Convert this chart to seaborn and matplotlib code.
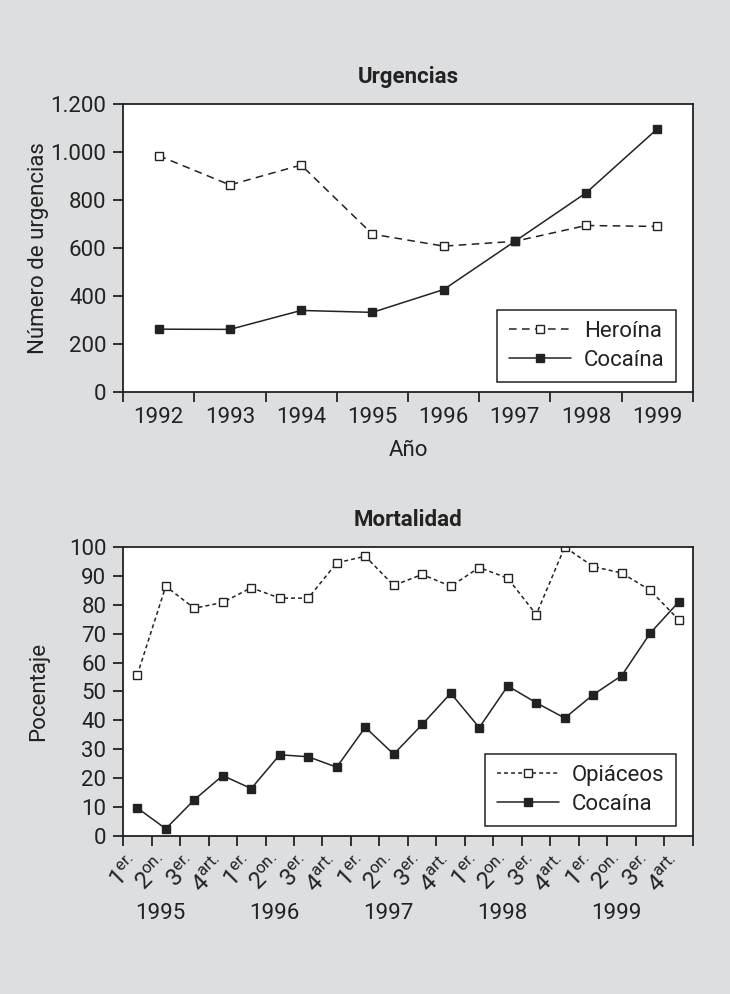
import matplotlib
matplotlib.use("Agg")
import matplotlib.pyplot as plt
import seaborn as sns
import numpy as np
import pandas as pd

# Urgencias (top panel)
anios_urg = ["1992", "1993", "1994", "1995", "1996", "1997", "1998", "1999"]
heroina = [985, 863, 946, 658, 608, 628, 694, 690]
cocaina_urg = [262, 261, 340, 332, 427, 628, 830, 1097]
ticks_urg = [0, 200, 400, 600, 800, 1000, 1200]
ticks_urg_lbl = ["0", "200", "400", "600", "800", "1.000", "1.200"]

# Mortalidad (bottom panel)
trimestres = ["1er.", "2on.", "3er.", "4art."]
anios_mort = ["1995", "1996", "1997", "1998", "1999"]
opiaceos = [55.7, 86.4, 78.8, 80.8, 85.9, 82.3, 82.3, 94.5, 96.8, 86.7,
            90.5, 86.4, 92.9, 89.2, 76.6, 100.0, 93.2, 91.0, 85.0, 74.8]
cocaina_mort = [9.7, 2.5, 12.5, 20.9, 16.4, 28.1, 27.4, 23.8, 37.6, 28.3,
                38.6, 49.4, 37.5, 51.9, 46.1, 40.8, 48.9, 55.5, 70.2, 81.0]

BG = "#dddee0"
INK = "#222222"

sns.set_style("ticks", rc={
    "axes.edgecolor": INK,
    "axes.linewidth": 1.3,
    "xtick.color": INK,
    "ytick.color": INK,
    "text.color": INK,
    "axes.labelcolor": INK,
    "xtick.direction": "out",
    "ytick.direction": "out",
})
plt.rcParams["font.family"] = ["Roboto", "DejaVu Sans"]
plt.rcParams["font.size"] = 16
plt.rcParams["mathtext.fontset"] = "custom"
plt.rcParams["mathtext.rm"] = "Roboto"


def sup(lbl):
    # "1er." -> 1 with superscript "er."
    return lbl[0] + r"$^{\mathrm{" + lbl[1:] + "}}$"


def serie(ax, x, y, nombre, relleno, dashes):
    df = pd.DataFrame({"x": x, "y": y})
    kw = dict(color=INK, linewidth=1.1, marker="s", markersize=6,
              markerfacecolor=relleno, markeredgecolor=INK,
              markeredgewidth=1.0, label=nombre)
    if dashes is not None:
        kw["linestyle"] = (0, dashes)
    sns.lineplot(data=df, x="x", y="y", ax=ax, sort=False, **kw)


def leyenda(ax):
    leg = ax.legend(loc="lower right", bbox_to_anchor=(0.97, 0.035),
                    borderaxespad=0, frameon=True, fancybox=False,
                    framealpha=1, edgecolor=INK, fontsize=16,
                    handlelength=2.8, handletextpad=0.6, borderpad=0.5,
                    labelspacing=0.35)
    leg.get_frame().set_linewidth(1.1)


def cajas(ax, n):
    ax.set_xlim(-0.5, n - 0.5)
    ax.set_xticks(np.arange(n + 1) - 0.5, labels=[""] * (n + 1))
    ax.tick_params(which="major", length=7, width=1.3, pad=5, labelsize=16)
    ax.tick_params(axis="x", which="minor", length=0)
    for s in ax.spines.values():
        s.set_visible(True)
        s.set_linewidth(1.3)


fig = plt.figure(figsize=(7.3, 9.94), dpi=100, facecolor=BG)
ax1 = fig.add_axes([0.1685, 0.6056, 0.7808, 0.2897])
ax2 = fig.add_axes([0.1685, 0.1590, 0.7808, 0.2907])

# --- Urgencias
x1 = np.arange(len(anios_urg))
serie(ax1, x1, heroina, "Heroína", "white", (5, 3.5))
serie(ax1, x1, cocaina_urg, "Cocaína", INK, None)
cajas(ax1, len(anios_urg))
ax1.set_xticks(x1, labels=anios_urg, minor=True)
ax1.tick_params(axis="x", which="minor", pad=11, labelsize=16)
ax1.set_ylim(0, 1200)
ax1.set_yticks(ticks_urg, labels=ticks_urg_lbl)
ax1.set_title("Urgencias", fontweight="bold", fontsize=16, pad=15)
ax1.set_xlabel("Año", fontsize=16)
ax1.xaxis.set_label_coords(0.5, -0.165)
ax1.set_ylabel("Número de urgencias", fontsize=16)
ax1.yaxis.set_label_coords(-0.13, 0.5)
leyenda(ax1)

# --- Mortalidad
n2 = len(opiaceos)
x2 = np.arange(n2)
serie(ax2, x2, opiaceos, "Opiáceos", "white", (2.6, 2.0))
serie(ax2, x2, cocaina_mort, "Cocaína", INK, None)
cajas(ax2, n2)
etiquetas = [sup(trimestres[i % 4]) for i in range(n2)]
ax2.set_xticks(x2, labels=etiquetas, minor=True)
ax2.tick_params(axis="x", which="minor", pad=18, labelsize=17)
for lbl in ax2.get_xticklabels(minor=True):
    lbl.set(rotation=45, ha="right", va="center", rotation_mode="anchor")
ax2.set_ylim(0, 100)
ax2.set_yticks(np.arange(0, 101, 10))
ax2.set_title("Mortalidad", fontweight="bold", fontsize=16, pad=15)
ax2.set_xlabel("")
ax2.set_ylabel("Pocentaje", fontsize=16)
ax2.yaxis.set_label_coords(-0.13, 0.5)
for k, anio in enumerate(anios_mort):
    ax2.text(4 * k + 0.8, -0.27, anio, transform=ax2.get_xaxis_transform(),
             ha="center", va="center", fontsize=16)
leyenda(ax2)

fig.savefig("out.png", dpi=100, facecolor=BG)
